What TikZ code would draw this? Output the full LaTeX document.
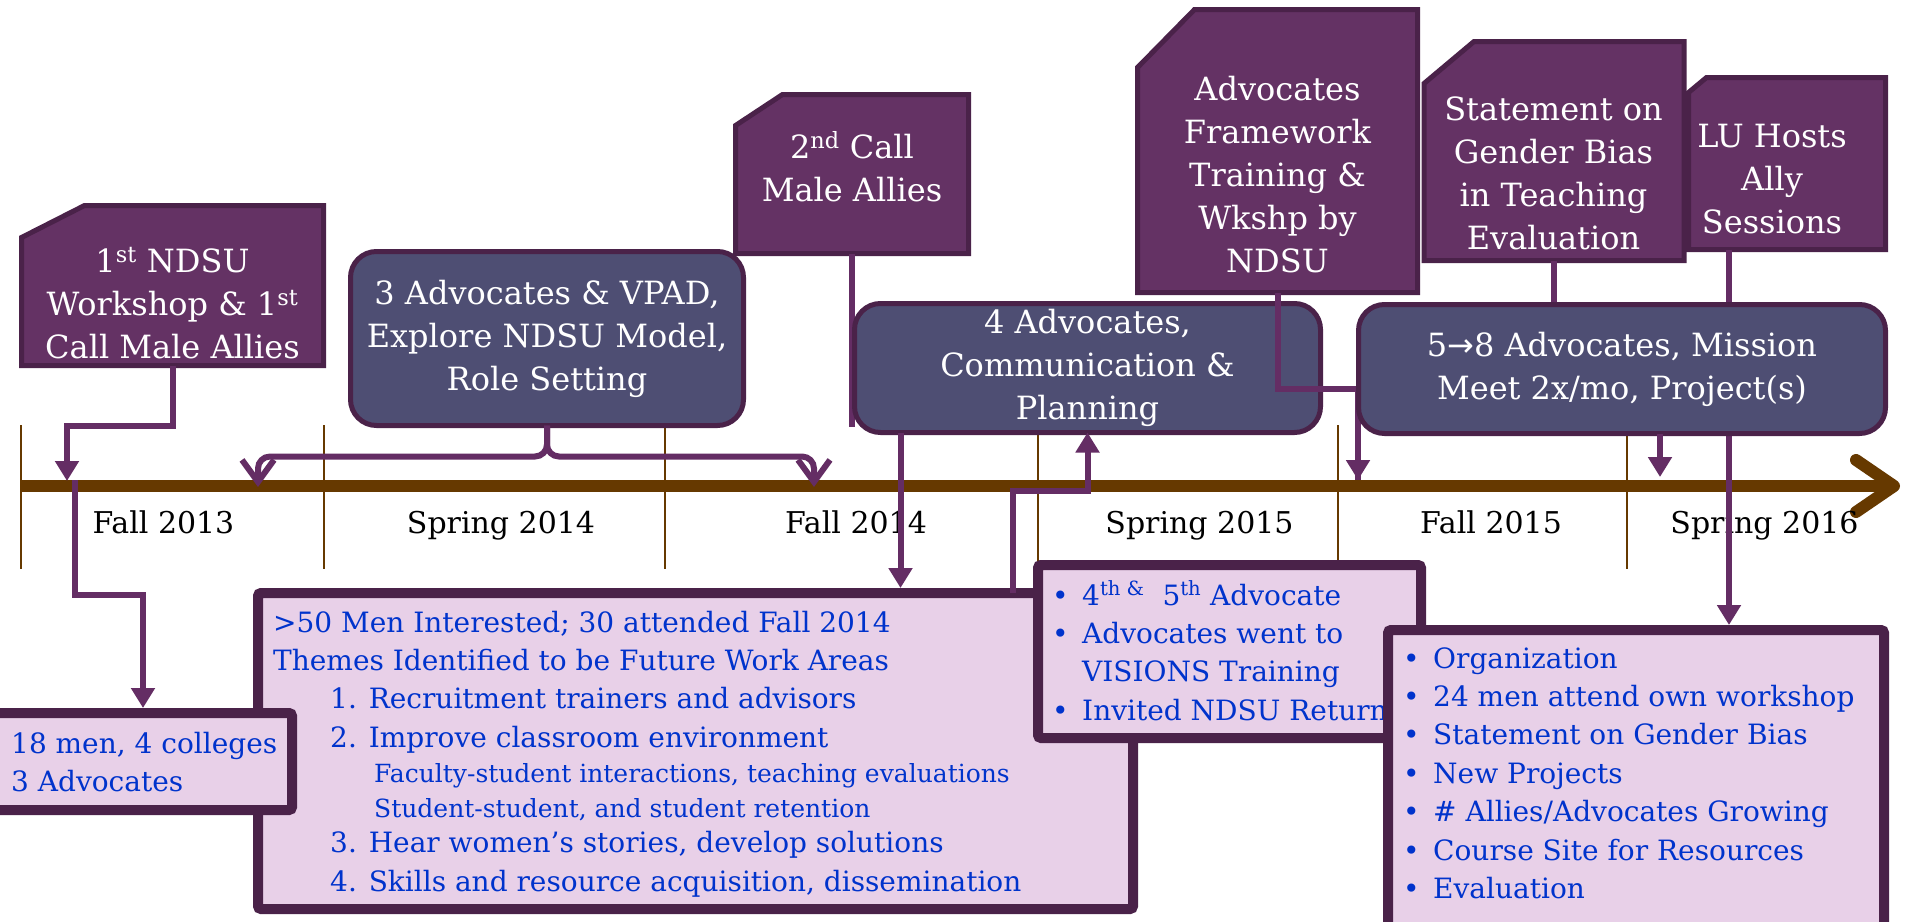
\documentclass[tikz,border=0pt]{standalone}
\usepackage{fontspec}
\setmainfont{DejaVu Serif}
\newfontfamily\arrowfont{DejaVu Sans}
\usetikzlibrary{arrows.meta}

\definecolor{boxpurple}{HTML}{643264}
\definecolor{boxedge}{HTML}{4A2249}
\definecolor{boxslate}{HTML}{4E4E73}
\definecolor{boxpink}{HTML}{E8D0E8}
\definecolor{noteblue}{HTML}{0033CC}
\definecolor{linkpurple}{HTML}{642D64}
\definecolor{timebrown}{HTML}{663900}

\newcommand{\boxFont}{\fontsize{32}{43}\selectfont}
\newcommand{\noteFont}{\fontsize{28}{38.4}\selectfont}
\newcommand{\subFont}{\fontsize{25}{34}\selectfont}
\newcommand{\termFont}{\fontsize{30}{36}\selectfont}
% rows of text whose baseline is the first row
\newcommand{\textrows}[2]{\begin{tabular}[t]{@{}#1@{}}#2\end{tabular}}
\newcommand{\bul}{\makebox[30pt][l]{\textbullet}}

\begin{document}
\begin{tikzpicture}[x=1pt, y=-1pt,
  % box with its top left corner cut off (#1 across, #2 down)
  snipBox/.style 2 args={rectangle, inner sep=0pt, outer sep=0pt,
    anchor=north west,
    append after command={\pgfextra{%
      \filldraw[draw=boxedge, fill=boxpurple, line width=5pt]
        (\tikzlastnode.south west)
        -- ([yshift=-#2]\tikzlastnode.north west)
        -- ([xshift=#1]\tikzlastnode.north west)
        -- (\tikzlastnode.north east)
        -- (\tikzlastnode.south east) -- cycle;}}},
  slateBox/.style={rectangle, rounded corners=26pt, draw=boxedge,
                   fill=boxslate, line width=5pt, inner sep=0pt,
                   outer sep=0pt, text=white, align=center, font=\boxFont},
  noteBox/.style={rectangle, rounded corners=3pt, draw=boxedge,
                  fill=boxpink, line width=10pt, outer sep=0pt,
                  anchor=north west},
  boxText/.style={text=white, font=\boxFont, anchor=base, inner sep=0pt},
  noteText/.style={text=noteblue, font=\noteFont, anchor=base west,
                   inner sep=0pt},
  termLabel/.style={font=\termFont, anchor=base, inner sep=0pt},
  link/.style={draw=linkpurple, line width=6pt},
  tick/.style={draw=timebrown, line width=2pt},
  >={Triangle[length=20pt,width=23pt]}
]
  \path[use as bounding box, fill=white] (0,0) rectangle (1905,921);

  % === Time line ===
  \foreach \x in {21,324,665,1038,1338,1627}
    \draw[tick] (\x,425) -- (\x,569);
  \coordinate (tlStart) at (21,486);
  \coordinate (tlEnd) at (1900,486);
  \draw[draw=timebrown, line width=12pt,
        -{Straight Barb[length=38pt,width=52pt,round]}] (tlStart) -- (tlEnd);

  \node[termLabel] (fall13) at (163.5,533) {Fall 2013};
  \node[termLabel] (spring14) at (501,533) {Spring 2014};
  \node[termLabel] (fall14) at (856,533) {Fall 2014};
  \node[termLabel] (spring15) at (1199.5,533) {Spring 2015};
  \node[termLabel] (fall15) at (1491,533) {Fall 2015};
  \node[termLabel] (spring16) at (1764.5,533) {Spring 2016};

  % points where the arrows meet the line
  \coordinate (tlFallA) at (67,481);
  \coordinate (tlFallB) at (75,480);
  \coordinate (braceLeft) at (258,487);
  \coordinate (braceRight) at (814,487);
  \coordinate (tlFall15) at (1358,480);
  \coordinate (tlSpring16) at (1660,477);

  % === Events above the line ===
  \node[snipBox={63pt}{32pt}, minimum width=302pt, minimum height=160pt]
    (ndsuOne) at (21.5,205.5) {};
  \node[boxText] (ndsuOneText) at (172.5,272)
    {\textrows{c}{1\textsuperscript{st} NDSU\\Workshop \& 1\textsuperscript{st}\\Call Male Allies}};

  \node[slateBox, minimum width=393pt, minimum height=174pt]
    (exploreBox) at (547,338.5)
    {3 Advocates \& VPAD,\\Explore NDSU Model,\\Role Setting};

  \node[snipBox={47pt}{31pt}, minimum width=233pt, minimum height=159pt]
    (callTwo) at (735.5,94.5) {};
  \node[boxText] (callTwoText) at (852,158)
    {\textrows{c}{2\textsuperscript{nd} Call\\Male Allies}};

  \draw[link] (callTwo.south) -- ([yshift=8pt]callTwo.south |- 0,435);

  \node[slateBox, minimum width=466pt, minimum height=129pt]
    (commBox) at (1087.5,368)
    {4 Advocates,\\Communication \&\\Planning};

  \node[snipBox={57pt}{58pt}, minimum width=280pt, minimum height=283pt]
    (frameBox) at (1137.5,9.5) {};
  \node[boxText] (frameText) at (1277.5,100)
    {\textrows{c}{Advocates\\Framework\\Training \&\\Wkshp by\\NDSU}};

  \node[snipBox={18pt}{15pt}, minimum width=197pt, minimum height=172pt]
    (hostBox) at (1688.5,77.5) {};
  \node[boxText] (hostText) at (1772,147)
    {\textrows{c}{LU Hosts\\Ally\\Sessions}};

  \node[snipBox={50pt}{42pt}, minimum width=260pt, minimum height=219pt]
    (genderBox) at (1424,41.5) {};
  \node[boxText] (genderText) at (1553.5,120)
    {\textrows{c}{Statement on\\Gender Bias\\in Teaching\\Evaluation}};

  % connectors running under the mission box
  \draw[link, ->] (ndsuOne.south) -- ++(0,60) -| (tlFallA);
  \draw[link] (frameBox.south) -- ++(0,96) -| (tlFall15);
  \draw[link] (genderBox.south) -- ++(0,42);
  \draw[link, ->, shorten >=5pt] ([xshift=-58pt]hostBox.south)
    -- ([xshift=-58pt]hostBox.south |- 0,630);
  \draw[link, ->] (tlFall15 |- 0,440) -- (tlFall15);

  \node[slateBox, minimum width=527pt, minimum height=129pt]
    (mission) at (1622,369)
    {5{\arrowfont →}8 Advocates, Mission\\Meet 2x/mo, Project(s)};

  % brace from the exploring phase
  \draw[link, rounded corners=12pt, -{Straight Barb[length=22pt,width=32pt]}]
    (exploreBox.south) -- ++(0,31) -| (braceLeft);
  \draw[link, rounded corners=12pt, -{Straight Barb[length=22pt,width=32pt]}]
    (exploreBox.south) -- ++(0,31) -| (braceRight);

  \draw[link, ->] (mission.south -| tlSpring16) -- (tlSpring16);

  % === Notes below the line ===
  \node[noteBox, minimum width=875pt, minimum height=316pt]
    (themeBox) at (258,593) {};
  \draw[link, ->, shorten >=5pt] ([xshift=46pt]commBox.south west)
    -- ([xshift=46pt]commBox.south west |- themeBox.north);
  \draw[link, ->] ([xshift=755pt]themeBox.north west)
    |- ([yshift=-58pt]commBox.south) -- (commBox.south);
  \node[noteText] (themeText) at (273,632) {\textrows{l}{%
    >50 Men Interested; 30 attended Fall 2014\\
    Themes Identified to be Future Work Areas\\
    \hspace{57pt}1. Recruitment trainers and advisors\\
    \hspace{57pt}2. Improve classroom environment\\[-3.5pt]
    \hspace{101pt}{\subFont Faculty-student interactions, teaching evaluations}\\[-3.5pt]
    \hspace{101pt}{\subFont Student-student, and student retention}\\[-2.5pt]
    \hspace{57pt}3. Hear women’s stories, develop solutions\\
    \hspace{57pt}4. Skills and resource acquisition, dissemination}};

  \draw[link, ->, shorten >=5pt] (tlFallB) -- ++(0,115) -| (143,713);
  \node[noteBox, minimum width=298pt, minimum height=97pt]
    (menBox) at (-6,713) {};
  \node[noteText] (menText) at (11,753)
    {\textrows{l}{18 men, 4 colleges\\3 Advocates}};

  \node[noteBox, minimum width=383pt, minimum height=173pt]
    (visionsBox) at (1038,565) {};
  \node[noteText] (visionsText) at (1052,605) {\textrows{l}{%
    \bul 4\textsuperscript{th \&}~~5\textsuperscript{th} Advocate\\
    \bul Advocates went to\\
    \hspace{30pt}VISIONS Training\\
    \bul Invited NDSU Return}};

  \node[noteBox, minimum width=496pt, minimum height=330pt]
    (allyList) at (1388,630) {};
  \node[noteText] (allyText) at (1403,668) {\textrows{l}{%
    \bul Organization\\
    \bul 24 men attend own workshop\\
    \bul Statement on Gender Bias\\
    \bul New Projects\\
    \bul \# Allies/Advocates Growing\\
    \bul Course Site for Resources\\
    \bul Evaluation}};
\end{tikzpicture}
\end{document}
